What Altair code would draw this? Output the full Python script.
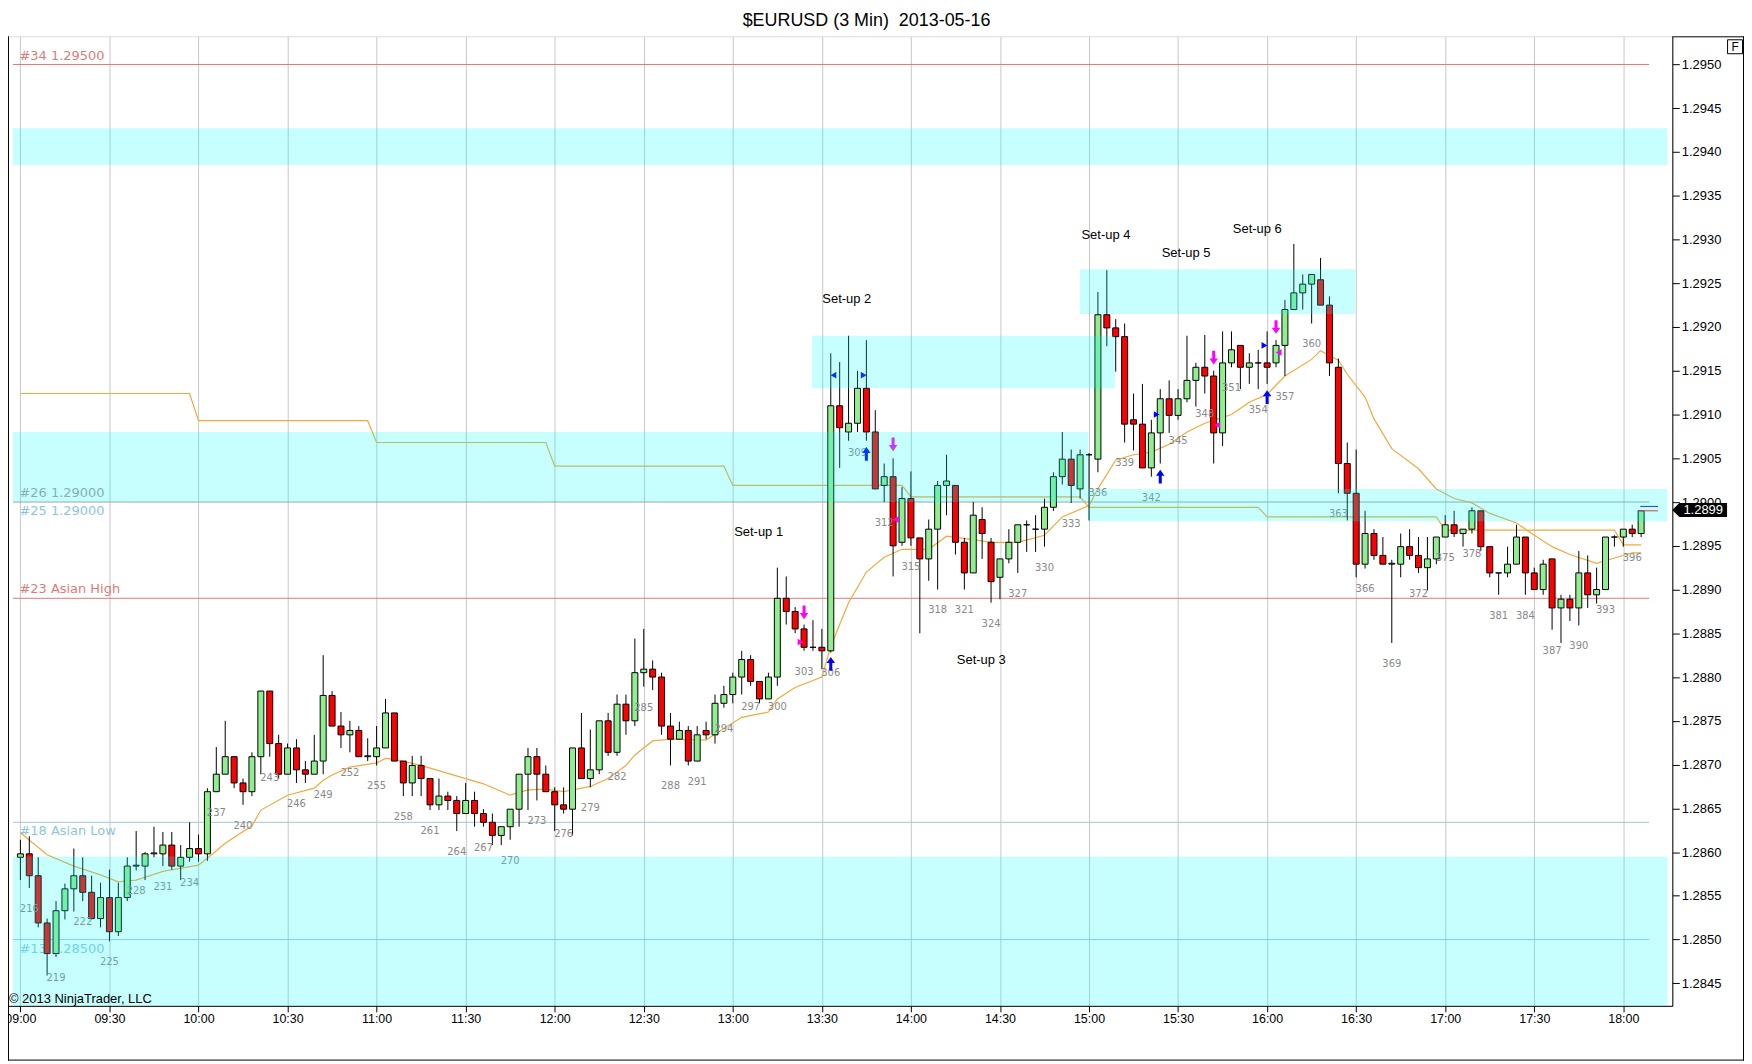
import altair as alt
import pandas as pd

# ---------------- data ----------------
first_bar = 215
opens = [
    1.28594, 1.28598, 1.28573, 1.28519, 1.28484, 1.28533, 1.28558, 1.28573, 1.28554, 1.28524,
    1.28548, 1.28509, 1.28548, 1.28584, 1.28584, 1.28598, 1.28598, 1.28608, 1.28584, 1.28594,
    1.28604, 1.28598, 1.28669, 1.28689, 1.28709, 1.28679, 1.28669, 1.28709, 1.28784, 1.28724,
    1.28689, 1.28719, 1.28694, 1.28689, 1.28704, 1.28779, 1.28744, 1.28734, 1.28739, 1.28709,
    1.28709, 1.28719, 1.28759, 1.28704, 1.28679, 1.28699, 1.28684, 1.28654, 1.28664, 1.28659,
    1.28644, 1.28659, 1.28644, 1.28634, 1.28619, 1.28629, 1.28649, 1.28689, 1.28709, 1.28689,
    1.28669, 1.28654, 1.28649, 1.28719, 1.28684, 1.28694, 1.28750, 1.28714, 1.28769, 1.28750,
    1.28805, 1.28809, 1.28800, 1.28744, 1.28729, 1.28739, 1.28704, 1.28739, 1.28734, 1.28770,
    1.28780, 1.28800, 1.28820, 1.28795, 1.28775, 1.28800, 1.28890, 1.28875, 1.28855, 1.28834,
    1.28834, 1.28830, 1.29110, 1.29080, 1.29090, 1.29130, 1.29080, 1.29019, 1.29029, 1.28954,
    1.29004, 1.28959, 1.28935, 1.28969, 1.29019, 1.29019, 1.28954, 1.28919, 1.28980, 1.28954,
    1.28914, 1.28935, 1.28954, 1.28974, 1.28969, 1.28969, 1.28994, 1.29029, 1.29049, 1.29015,
    1.29054, 1.29049, 1.29214, 1.29199, 1.29189, 1.29094, 1.29089, 1.29039, 1.29079, 1.29118,
    1.29099, 1.29118, 1.29139, 1.29154, 1.29144, 1.29079, 1.29159, 1.29179, 1.29154, 1.29159,
    1.29159, 1.29159, 1.29179, 1.29220, 1.29239, 1.29249, 1.29254, 1.29225, 1.29154, 1.29044,
    1.29010, 1.28929, 1.28964, 1.28939, 1.28929, 1.28929, 1.28949, 1.28939, 1.28925, 1.28935,
    1.28960, 1.28974, 1.28964, 1.28969, 1.28990, 1.28949, 1.28919, 1.28919, 1.28929, 1.28960,
    1.28919, 1.28900, 1.28935, 1.28879, 1.28889, 1.28879, 1.28919, 1.28894, 1.28900, 1.28960,
    1.28960, 1.28969, 1.28964,
]
highs = [
    1.28614, 1.28618, 1.28594, 1.28524, 1.28544, 1.28564, 1.28604, 1.28594, 1.28573, 1.28565,
    1.28580, 1.28565, 1.28594, 1.28624, 1.28600, 1.28629, 1.28623, 1.28623, 1.28608, 1.28634,
    1.28620, 1.28673, 1.28720, 1.28750, 1.28709, 1.28684, 1.28714, 1.28784, 1.28784, 1.28734,
    1.28724, 1.28729, 1.28704, 1.28734, 1.28825, 1.28784, 1.28760, 1.28750, 1.28744, 1.28730,
    1.28744, 1.28775, 1.28759, 1.28704, 1.28710, 1.28710, 1.28684, 1.28684, 1.28669, 1.28664,
    1.28679, 1.28669, 1.28649, 1.28644, 1.28629, 1.28649, 1.28689, 1.28719, 1.28719, 1.28699,
    1.28674, 1.28674, 1.28719, 1.28759, 1.28740, 1.28750, 1.28759, 1.28780, 1.28780, 1.28844,
    1.28855, 1.28819, 1.28805, 1.28759, 1.28749, 1.28744, 1.28744, 1.28749, 1.28780, 1.28790,
    1.28805, 1.28830, 1.28825, 1.28795, 1.28805, 1.28925, 1.28915, 1.28880, 1.28860, 1.28865,
    1.28855, 1.29170, 1.29160, 1.29190, 1.29150, 1.29185, 1.29105, 1.29044, 1.29050, 1.29017,
    1.29035, 1.28959, 1.28980, 1.29024, 1.29054, 1.29019, 1.28959, 1.29000, 1.28994, 1.28959,
    1.28935, 1.28969, 1.28974, 1.28979, 1.28985, 1.29004, 1.29034, 1.29080, 1.29060, 1.29060,
    1.29056, 1.29240, 1.29265, 1.29209, 1.29204, 1.29124, 1.29135, 1.29094, 1.29129, 1.29139,
    1.29129, 1.29190, 1.29159, 1.29191, 1.29150, 1.29195, 1.29195, 1.29179, 1.29170, 1.29174,
    1.29195, 1.29185, 1.29231, 1.29295, 1.29260, 1.29260, 1.29279, 1.29235, 1.29164, 1.29068,
    1.29060, 1.28990, 1.28969, 1.28960, 1.28934, 1.28964, 1.28969, 1.28960, 1.28960, 1.28960,
    1.28985, 1.28990, 1.28969, 1.28994, 1.28990, 1.28949, 1.28919, 1.28949, 1.28974, 1.28960,
    1.28925, 1.28934, 1.28935, 1.28894, 1.28894, 1.28944, 1.28939, 1.28925, 1.28960, 1.28962,
    1.28969, 1.28974, 1.28990,
]
lows = [
    1.28568, 1.28559, 1.28514, 1.28459, 1.28480, 1.28523, 1.28532, 1.28544, 1.28523, 1.28514,
    1.28498, 1.28504, 1.28544, 1.28579, 1.28568, 1.28594, 1.28584, 1.28580, 1.28568, 1.28589,
    1.28589, 1.28590, 1.28669, 1.28689, 1.28673, 1.28654, 1.28664, 1.28689, 1.28709, 1.28684,
    1.28689, 1.28679, 1.28679, 1.28689, 1.28689, 1.28744, 1.28719, 1.28714, 1.28709, 1.28704,
    1.28699, 1.28719, 1.28704, 1.28664, 1.28664, 1.28664, 1.28648, 1.28648, 1.28648, 1.28624,
    1.28644, 1.28629, 1.28629, 1.28608, 1.28608, 1.28614, 1.28629, 1.28648, 1.28659, 1.28669,
    1.28624, 1.28644, 1.28619, 1.28684, 1.28674, 1.28689, 1.28710, 1.28710, 1.28734, 1.28744,
    1.28789, 1.28785, 1.28734, 1.28699, 1.28729, 1.28699, 1.28704, 1.28729, 1.28724, 1.28765,
    1.28770, 1.28780, 1.28790, 1.28770, 1.28775, 1.28790, 1.28860, 1.28850, 1.28830, 1.28830,
    1.28809, 1.28828, 1.29039, 1.29070, 1.29080, 1.29070, 1.29015, 1.29000, 1.28915, 1.28950,
    1.28950, 1.28850, 1.28910, 1.28900, 1.28985, 1.28940, 1.28900, 1.28919, 1.28935, 1.28885,
    1.28889, 1.28930, 1.28919, 1.28943, 1.28943, 1.28949, 1.28990, 1.29020, 1.28999, 1.29004,
    1.28979, 1.29034, 1.29178, 1.29149, 1.29068, 1.29059, 1.29039, 1.29029, 1.29044, 1.29079,
    1.29094, 1.29114, 1.29109, 1.29124, 1.29044, 1.29064, 1.29154, 1.29129, 1.29135, 1.29129,
    1.29135, 1.29154, 1.29144, 1.29220, 1.29220, 1.29204, 1.29225, 1.29144, 1.29010, 1.28979,
    1.28914, 1.28924, 1.28934, 1.28929, 1.28839, 1.28914, 1.28934, 1.28919, 1.28899, 1.28929,
    1.28960, 1.28960, 1.28949, 1.28964, 1.28944, 1.28914, 1.28894, 1.28914, 1.28929, 1.28894,
    1.28900, 1.28894, 1.28854, 1.28839, 1.28864, 1.28859, 1.28879, 1.28884, 1.28900, 1.28949,
    1.28949, 1.28960, 1.28960,
]
closes = [
    1.28598, 1.28573, 1.28519, 1.28484, 1.28533, 1.28558, 1.28573, 1.28554, 1.28524, 1.28548,
    1.28509, 1.28548, 1.28584, 1.28585, 1.28598, 1.28599, 1.28608, 1.28584, 1.28594, 1.28604,
    1.28598, 1.28669, 1.28689, 1.28709, 1.28679, 1.28669, 1.28709, 1.28784, 1.28724, 1.28689,
    1.28719, 1.28694, 1.28689, 1.28704, 1.28779, 1.28744, 1.28734, 1.28739, 1.28709, 1.28710,
    1.28719, 1.28759, 1.28704, 1.28679, 1.28699, 1.28684, 1.28654, 1.28664, 1.28659, 1.28644,
    1.28659, 1.28644, 1.28634, 1.28619, 1.28629, 1.28649, 1.28689, 1.28709, 1.28689, 1.28669,
    1.28654, 1.28649, 1.28719, 1.28684, 1.28694, 1.28750, 1.28714, 1.28769, 1.28750, 1.28805,
    1.28809, 1.28800, 1.28744, 1.28729, 1.28739, 1.28704, 1.28734, 1.28734, 1.28770, 1.28780,
    1.28800, 1.28820, 1.28795, 1.28775, 1.28800, 1.28890, 1.28875, 1.28855, 1.28834, 1.28834,
    1.28830, 1.29110, 1.29085, 1.29090, 1.29130, 1.29080, 1.29015, 1.29029, 1.28950, 1.29004,
    1.28959, 1.28935, 1.28969, 1.29019, 1.29024, 1.28954, 1.28919, 1.28985, 1.28964, 1.28909,
    1.28935, 1.28954, 1.28974, 1.28974, 1.28969, 1.28994, 1.29029, 1.29049, 1.29019, 1.29054,
    1.29054, 1.29214, 1.29199, 1.29189, 1.29089, 1.29089, 1.29039, 1.29079, 1.29118, 1.29099,
    1.29118, 1.29139, 1.29154, 1.29144, 1.29079, 1.29159, 1.29174, 1.29154, 1.29159, 1.29159,
    1.29154, 1.29179, 1.29220, 1.29239, 1.29249, 1.29260, 1.29225, 1.29159, 1.29044, 1.29010,
    1.28929, 1.28964, 1.28939, 1.28929, 1.28930, 1.28949, 1.28939, 1.28925, 1.28935, 1.28960,
    1.28974, 1.28964, 1.28969, 1.28990, 1.28949, 1.28919, 1.28919, 1.28929, 1.28960, 1.28919,
    1.28900, 1.28929, 1.28879, 1.28889, 1.28879, 1.28919, 1.28894, 1.28900, 1.28960, 1.28960,
    1.28969, 1.28964, 1.28990,
]

# hourly step indicator (one value per hour, 09:00 ... 18:00)
hour_levels = [1.29124, 1.29093, 1.29068, 1.29041, 1.29019, 1.29006, 1.28994, 1.28983, 1.28968, 1.28951]
bars_per_hour = 20

# moving average read at sample bars
ema_bars = [215, 218, 221, 224, 226, 228, 231, 235, 236, 238,
            241, 242, 245, 248, 249, 250, 252, 255, 256, 257,
            260, 263, 267, 270, 272, 274, 276, 279, 281, 283,
            284, 286, 288, 292, 293, 296, 299, 300, 302, 305,
            306, 307, 308, 310, 312, 314, 317, 319, 322, 324,
            327, 330, 332, 335, 336, 338, 340, 342, 344, 346,
            348, 351, 353, 355, 357, 360, 361, 363, 364, 366,
            367, 369, 372, 374, 376, 378, 380, 383, 385, 387,
            389, 392, 394, 396, 397]
ema_vals = [1.28622, 1.28597, 1.28584, 1.28574, 1.28566, 1.28568, 1.28578, 1.28585, 1.28593, 1.28610,
            1.28630, 1.28648, 1.28665, 1.28673, 1.28682, 1.28688, 1.28697, 1.28702, 1.28707, 1.28706,
            1.28699, 1.28690, 1.28678, 1.28665, 1.28671, 1.28672, 1.28669, 1.28675, 1.28684, 1.28699,
            1.28711, 1.28727, 1.28729, 1.28728, 1.28735, 1.28754, 1.28760, 1.28775, 1.28788, 1.28800,
            1.28835, 1.28860, 1.28885, 1.28920, 1.28937, 1.28946, 1.28946, 1.28961, 1.28957, 1.28954,
            1.28954, 1.28962, 1.28983, 1.28996, 1.29015, 1.29048, 1.29054, 1.29057, 1.29066, 1.29080,
            1.29090, 1.29100, 1.29114, 1.29123, 1.29144, 1.29163, 1.29173, 1.29162, 1.29146, 1.29120,
            1.29095, 1.29061, 1.29038, 1.29015, 1.29004, 1.28999, 1.28987, 1.28976, 1.28962, 1.28949,
            1.28940, 1.28930, 1.28936, 1.28942, 1.28942]

# x axis: bar index of each half hour and its label
tick_bars = [215, 225, 235, 245, 255, 265, 275, 285, 295, 305, 315, 325, 335, 345, 355, 365, 375, 385, 395]
tick_labels = ["09:00", "09:30", "10:00", "10:30", "11:00", "11:30", "12:00", "12:30", "13:00", "13:30",
               "14:00", "14:30", "15:00", "15:30", "16:00", "16:30", "17:00", "17:30", "18:00"]
price_ticks = [1.2845, 1.2850, 1.2855, 1.2860, 1.2865, 1.2870, 1.2875, 1.2880, 1.2885, 1.2890, 1.2895,
               1.2900, 1.2905, 1.2910, 1.2915, 1.2920, 1.2925, 1.2930, 1.2935, 1.2940, 1.2945, 1.2950]

# plot edges expressed in bars / prices
x_left, x_right = 214.1667, 399.944
y_low, y_high = 1.284243, 1.295322
line_end_bar = 397.9

# horizontal drawing lines
red_level_names = ["#34 1.29500", "#23 Asian High"]
red_level_prices = [1.2950, 1.2889]
gray_level_names = ["#26 1.29000"]
gray_level_prices = [1.2900]
blue_level_names = ["#25 1.29000", "#18 Asian Low", "#13 1.28500"]
blue_level_prices = [1.2900, 1.28634, 1.2850]
level_label_bar = 214.9

# zones (rectangles)
zone_from = [x_left, x_left, 334.9, 303.9, 334.0, x_left]
zone_to = [x_right, 334.9, x_right, 337.9, 364.9, x_right]
zone_lo = [1.29385, 1.29000, 1.28978, 1.29130, 1.29215, y_low]
zone_hi = [1.29427, 1.29080, 1.29015, 1.29190, 1.29266, 1.28595]

# set-up annotations
setup_names = ["Set-up 1", "Set-up 2", "Set-up 3", "Set-up 4", "Set-up 5", "Set-up 6"]
setup_bars = [297.9, 307.8, 322.9, 336.9, 345.9, 353.9]
setup_prices = [1.28966, 1.29232, 1.28819, 1.29305, 1.29284, 1.29312]

# signal markers
up_arrow_bars = [306, 310, 343, 355]
up_arrow_prices = [1.28815, 1.29055, 1.29029, 1.29120]
down_arrow_bars = [303, 313, 349, 356]
down_arrow_prices = [1.28874, 1.29066, 1.29165, 1.29200]
blue_right_bars = [309.7, 342.6, 354.7]
blue_right_prices = [1.29145, 1.29100, 1.29179]
blue_left_bars = [306.3]
blue_left_prices = [1.29145]
mag_right_bars = [302.6]
mag_right_prices = [1.28840]
mag_left_bars = [313.3, 349.4, 356.3]
mag_left_prices = [1.28980, 1.29088, 1.29171]

last_price = 1.28991
last_price_text = "1.2899"
ask_price, bid_price = 1.28995, 1.28990
quote_from, quote_to = 396.9, 398.9

title_text = "$EURUSD (3 Min)\u00a0 2013-05-16"
copyright_text = "\u00a9 2013 NinjaTrader, LLC"

# ---------------- tables ----------------
bar_ids = list(range(first_bar, first_bar + len(opens)))
candles = pd.DataFrame({"bar": bar_ids, "open": opens, "high": highs, "low": lows, "close": closes})
labelled = candles[(candles["bar"] - 216) % 3 == 0].copy()
labelled["label"] = labelled["bar"].astype(str)
step_df = pd.DataFrame({"bar": bar_ids,
                        "level": [hour_levels[(b - first_bar) // bars_per_hour] for b in bar_ids]})
ema_df = pd.DataFrame({"bar": ema_bars, "value": ema_vals})
zones = pd.DataFrame({"x0": zone_from, "x1": zone_to, "lo": zone_lo, "hi": zone_hi})

xs = alt.Scale(domain=[x_left, x_right], nice=False, zero=False)
ys = alt.Scale(domain=[y_low, y_high], nice=False, zero=False)
FONT = "Liberation Sans"
LFONT = "DejaVu Sans"

label_expr = "[" + ",".join("'%s'" % t for t in tick_labels) + "][round((datum.value-215)/10)]"

x_axis = alt.Axis(values=tick_bars, labelExpr=label_expr, grid=True, gridColor="#c8c8c8",
                  gridWidth=1, tickSize=6, tickColor="black", domainColor="black",
                  labelColor="black", labelFont=FONT, labelFontSize=12.5, labelPadding=1,
                  labelFlush=False, labelOverlap=False, title=None)
y_axis = alt.Axis(orient="right", values=price_ticks, format=".4f", tickSize=7, tickColor="black",
                  domainColor="black", labelColor="black", labelFont=FONT, labelFontSize=13,
                  labelPadding=2, grid=False, labelOverlap=False, title=None)


def X(f):
    return alt.X(f, type="quantitative", scale=xs, axis=x_axis)


def Y(f):
    return alt.Y(f, type="quantitative", scale=ys, axis=y_axis)


layers = []


def level_lines(prices, color):
    df = pd.DataFrame({"p": prices, "x0": [x_left] * len(prices), "x1": [line_end_bar] * len(prices)})
    return alt.Chart(df).mark_rule(color=color, strokeWidth=1).encode(x=X("x0"), x2="x1", y=Y("p"))


def level_texts(names, prices, color, dy):
    df = pd.DataFrame({"t": names, "p": prices, "b": [level_label_bar] * len(names)})
    return alt.Chart(df).mark_text(align="left", baseline="middle", dy=dy, font=LFONT, fontSize=13,
                                   color=color).encode(x=X("b"), y=Y("p"), text="t:N")


layers += [
    level_texts(red_level_names, red_level_prices, "#e07a7a", -9),
    level_texts(gray_level_names, gray_level_prices, "#a89a9a", -9),
    level_texts(blue_level_names, blue_level_prices, "#8cc6dc", 9),
    level_lines([1.2950, 1.2889], "#e07878"),
    level_lines([1.2900], "#a8a0a0"),
    level_lines([1.28634, 1.2850], "#9cc8d6"),
]

layers.append(alt.Chart(step_df).mark_line(color="#f0aa3c", strokeWidth=1.2).encode(
    x=X("bar"), y=Y("level")))
layers.append(alt.Chart(ema_df).mark_line(color="#f0aa3c", strokeWidth=1.2).encode(
    x=X("bar"), y=Y("value")))

# wicks and candle bodies
layers.append(alt.Chart(candles).mark_rule(color="black", strokeWidth=1).encode(
    x=X("bar"), y=Y("low"), y2="high"))
layers.append(alt.Chart(candles).mark_bar(size=6, stroke="black", strokeWidth=1).encode(
    x=X("bar"), y=Y("open"), y2="close",
    color=alt.condition("datum.close > datum.open", alt.value("#90ee90"), alt.value("#ff0000"))))

# bar numbers
layers.append(alt.Chart(labelled).mark_text(baseline="middle", dy=21, font=LFONT, fontSize=10,
                                            color="#888888").encode(
    x=X("bar"), y=Y("low"), text="label:N"))

# set-up annotations
setup_df = pd.DataFrame({"t": setup_names, "b": setup_bars, "p": setup_prices})
layers.append(alt.Chart(setup_df).mark_text(baseline="middle", font=FONT, fontSize=13,
                                            color="black").encode(x=X("b"), y=Y("p"), text="t:N"))

UP = "M0,-1L0.62,-0.12L0.22,-0.12L0.22,1L-0.22,1L-0.22,-0.12L-0.62,-0.12Z"
DOWN = "M0,1L0.62,0.12L0.22,0.12L0.22,-1L-0.22,-1L-0.22,0.12L-0.62,0.12Z"


def markers(bars, prices, shape, color, size):
    df = pd.DataFrame({"b": bars, "p": prices})
    return alt.Chart(df).mark_point(shape=shape, filled=True, size=size, color=color, opacity=1,
                                    strokeWidth=0).encode(x=X("b"), y=Y("p"))


layers += [
    markers(up_arrow_bars, up_arrow_prices, UP, "#0000ff", 190),
    markers(down_arrow_bars, down_arrow_prices, DOWN, "#ff00ff", 190),
    markers(blue_right_bars, blue_right_prices, "triangle-right", "#0000ff", 45),
    markers(blue_left_bars, blue_left_prices, "triangle-left", "#0000ff", 45),
    markers(mag_right_bars, mag_right_prices, "triangle-right", "#ff00ff", 45),
    markers(mag_left_bars, mag_left_prices, "triangle-left", "#ff00ff", 45),
]

# translucent cyan zones drawn over everything
layers.append(alt.Chart(zones).mark_rect(color="#00ffff", opacity=0.22).encode(
    x=X("x0"), x2="x1", y=Y("lo"), y2="hi"))

# bid / ask marks at the last bar
quotes_ask = pd.DataFrame({"p": [ask_price], "x0": [quote_from], "x1": [quote_to]})
quotes_bid = pd.DataFrame({"p": [bid_price], "x0": [quote_from], "x1": [quote_to]})
layers.append(alt.Chart(quotes_ask).mark_rule(color="#2040c0", strokeWidth=1).encode(
    x=X("x0"), x2="x1", y=Y("p")))
layers.append(alt.Chart(quotes_bid).mark_rule(color="#d04040", strokeWidth=1).encode(
    x=X("x0"), x2="x1", y=Y("p")))

# last price tag on the price axis
TAG = "M-1,0L-0.745,-0.2545L1,-0.2545L1,0.2545L-0.745,0.2545Z"
lp = pd.DataFrame({"p": [last_price], "t": [last_price_text]})
layers.append(alt.Chart(lp).mark_point(shape=TAG, filled=True, size=3025, color="black", opacity=1,
                                       strokeWidth=0).encode(x=alt.value(1699.5), y=Y("p")))
layers.append(alt.Chart(lp).mark_text(font=FONT, fontSize=13, color="white", baseline="middle").encode(
    x=alt.value(1703), y=Y("p"), text="t:N"))

# title, copyright, frame and the "F" box
tt = pd.DataFrame({"t": [title_text]})
layers.append(alt.Chart(tt).mark_text(font=FONT, fontSize=18, color="black", align="center",
                                      baseline="alphabetic").encode(
    x=alt.value(862.5), y=alt.value(-10.8), text="t:N"))
cp = pd.DataFrame({"t": [copyright_text]})
layers.append(alt.Chart(cp).mark_text(align="left", baseline="middle", font=FONT, fontSize=13,
                                      color="black").encode(x=alt.value(1), y=alt.value(966.7), text="t:N"))
fr = pd.DataFrame({"t": ["F"]})
layers.append(alt.Chart(fr).mark_rule(color="black", strokeWidth=1).encode(
    x=alt.value(1672), x2=alt.value(1744), y=alt.value(0.5)))
layers.append(alt.Chart(fr).mark_rule(color="black", strokeWidth=1).encode(
    x=alt.value(0), x2=alt.value(1744), y=alt.value(1028.5)))
layers.append(alt.Chart(fr).mark_rule(color="black", strokeWidth=1).encode(
    x=alt.value(0.5), y=alt.value(0), y2=alt.value(1029)))
layers.append(alt.Chart(fr).mark_rule(color="black", strokeWidth=1).encode(
    x=alt.value(1743.5), y=alt.value(0), y2=alt.value(1029)))
layers.append(alt.Chart(fr).mark_rect(fill="white", stroke="black", strokeWidth=1).encode(
    x=alt.value(1727.5), x2=alt.value(1742.5), y=alt.value(3.5), y2=alt.value(17.5)))
layers.append(alt.Chart(fr).mark_text(font=FONT, fontSize=12, color="black", baseline="middle").encode(
    x=alt.value(1735), y=alt.value(10.5), text="t:N"))

chart = alt.layer(*layers).properties(
    width=1672, height=974,
    autosize=alt.AutoSizeParams(type="none"),
    padding={"left": 0, "top": 26, "right": 72, "bottom": 56},
).configure_view(stroke="black", strokeWidth=1).configure(background="white")

chart.save("out.html", embed_options={"renderer": "svg", "actions": False})
